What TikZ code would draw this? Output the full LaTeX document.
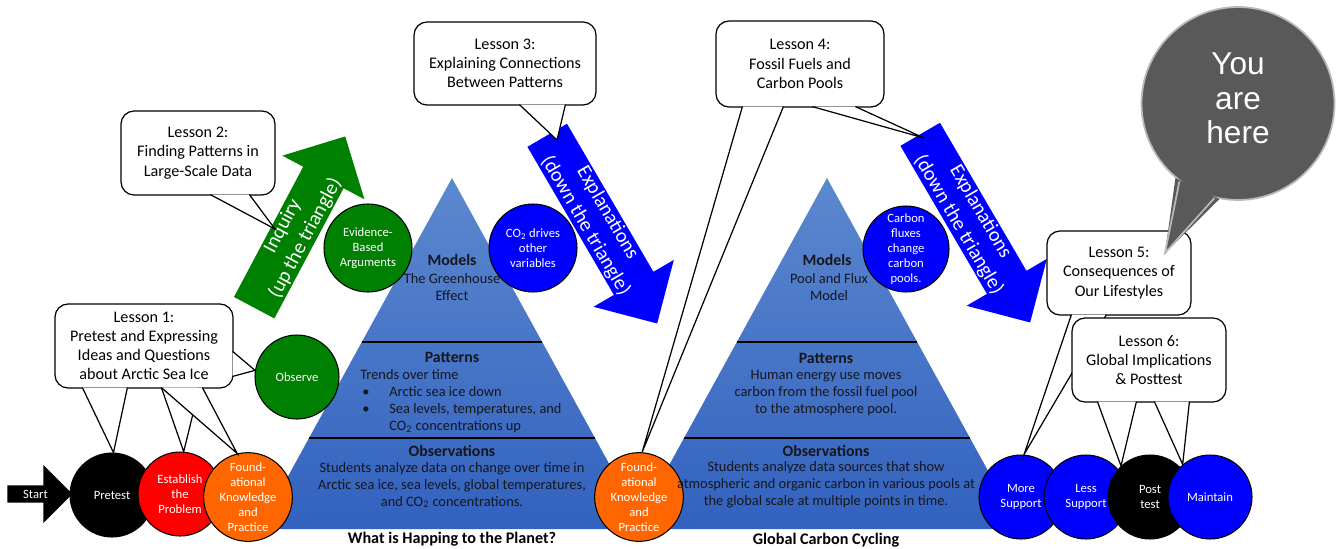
\documentclass[tikz,border=0pt]{standalone}
\usepackage{fontspec}
\setmainfont{Carlito}
\newfontfamily\herefont{Liberation Sans}
\usetikzlibrary{shapes.arrows,calc}

\definecolor{tritop}{RGB}{92,136,206}
\definecolor{tribot}{RGB}{50,98,191}
\definecolor{inqgreen}{RGB}{0,128,0}
\definecolor{expblue}{RGB}{0,0,255}
\definecolor{fndorange}{RGB}{255,102,0}
\definecolor{heregray}{RGB}{89,89,89}
\definecolor{tritext}{RGB}{22,22,30}

\newcommand{\bul}{\makebox[0.58cm][l]{\hspace{0.04cm}\textbullet}}
\newcommand{\calltail}[3]{%
  \fill[white] #1 -- #3 -- #2 -- cycle;
  \draw[tailline] #1 -- #3 -- #2;}

\begin{document}
\begin{tikzpicture}[
    x=0.02cm, y=-0.02cm,
    spot/.style={
        circle, draw=black, line width=0.6pt,
        text=white, align=center, inner sep=0pt,
        minimum size=1.68cm, font=\fontsize{7.2}{8.5}\selectfont,
      },
    lesson/.style={
        rectangle, rounded corners=0.26cm,
        draw=black, line width=0.7pt, fill=white,
        align=center, inner sep=0pt,
        font=\fontsize{9.2}{10.9}\selectfont,
      },
    tailline/.style={draw=black, line width=0.7pt},
    bigarrow/.style={
        single arrow, single arrow head extend=0.45cm,
        minimum width=1.86cm, inner sep=0pt, anchor=tail,
        text=white, align=center, font=\fontsize{11.5}{14.5}\selectfont,
      },
    levelhead/.style={font=\bfseries\fontsize{9}{10}\selectfont, text=tritext, inner sep=0pt},
    leveltext/.style={font=\fontsize{8.2}{9.7}\selectfont, text=tritext, align=center, inner sep=0pt},
    caption/.style={font=\bfseries\fontsize{9.2}{10}\selectfont, inner sep=0pt},
  ]
  \useasboundingbox (0,0) rectangle (1344,548);

  % the two pyramids
  \foreach \ax in {452,827} {
    \shade[top color=tritop, bottom color=tribot]
      (\ax,178) -- (\ax+193,529) -- (\ax-193,529) -- cycle;
    \draw[line width=0.8pt] (\ax-90,342) -- (\ax+90,342);
    \draw[line width=0.8pt] (\ax-143,438) -- (\ax+143,438);
  }

  % big arrows
  \node[bigarrow, fill=inqgreen, rotate=62, minimum height=3.88cm]
    (inquiry) at (254,308) {Inquiry\\(up the triangle)};
  \node[bigarrow, fill=expblue, rotate=-59.7, minimum height=4.36cm]
    (explain1) at (547,135) {Explanations\\(down the triangle)};
  \node[bigarrow, fill=expblue, rotate=-59.7, minimum height=4.36cm]
    (explain2) at (920,134) {Explanations\\(down the triangle)};
  \node[single arrow, fill=black, text=white, inner sep=0pt, anchor=tail,
    minimum height=1.3cm, minimum width=1.16cm, single arrow head extend=0.21cm,
    font=\fontsize{7.2}{8}\selectfont] (start) at (7,494) {Start};

  % circles
  \node[spot, fill=black] (pretest) at (112,495) {Pretest};
  \node[spot, fill=red] (establish) at (180,494) {Establish\\the\\Problem};
  \node[spot, fill=fndorange] (found1) at (248,497) {Found-\\ational\\Knowledge\\and\\Practice};
  \node[spot, fill=inqgreen] (observe) at (297,377) {Observe};
  \node[spot, fill=inqgreen, minimum size=1.76cm] (evidence) at (368,248) {Evidence-\\Based\\Arguments};
  \node[spot, fill=expblue, minimum size=1.76cm] (drives) at (533,248) {CO\textsubscript{2} drives\\other\\variables};
  \node[spot, fill=fndorange] (found2) at (639,497) {Found-\\ational\\Knowledge\\and\\Practice};
  \node[spot, fill=expblue, minimum size=1.72cm] (fluxes) at (906,249) {Carbon\\fluxes\\change\\carbon\\pools.};
  \node[spot, fill=expblue] (more) at (1021,497) {More\\Support};
  \node[spot, fill=expblue] (less) at (1086,497) {Less\\Support};
  \node[spot, fill=black] (post) at (1150,497) {Post\\test};
  \node[spot, fill=expblue] (maintain) at (1210,497) {Maintain};

  % pyramid texts
  \node[levelhead] (models1) at (452,260) {Models};
  \node[leveltext] (greenhouse) at (452,287) {The Greenhouse\\Effect};
  \node[levelhead] (patterns1) at (452,357) {Patterns};
  \node[leveltext, align=left, anchor=west] (trends) at (360,401)
    {Trends over time\\\bul Arctic sea ice down\\\bul Sea levels, temperatures, and\\\hspace*{0.58cm}CO\textsubscript{2} concentrations up};
  \node[levelhead] (obs1) at (452,451) {Observations};
  \node[leveltext] (obstext1) at (452,485)
    {Students analyze data on change over time in\\Arctic sea ice, sea levels, global temperatures,\\and CO\textsubscript{2} concentrations.};
  \node[caption] (planet) at (452,539) {What is Happing to the Planet?};

  \node[levelhead] (models2) at (827,260) {Models};
  \node[leveltext] (poolflux) at (829,287) {Pool and Flux\\Model};
  \node[levelhead] (patterns2) at (826,358) {Patterns};
  \node[leveltext] (energy) at (826,393)
    {Human energy use moves\\carbon from the fossil fuel pool\\to the atmosphere pool.};
  \node[levelhead] (obs2) at (826,451) {Observations};
  \node[leveltext] (obstext2) at (826,485)
    {Students analyze data sources that show\\atmospheric and organic carbon in various pools at\\the global scale at multiple points in time.};
  \node[caption] (cycling) at (826,540) {Global Carbon Cycling};

  % lessons
  \node[lesson, minimum width=3.56cm, minimum height=1.68cm] (l1) at (144,346)
    {Lesson 1:\\Pretest and Expressing\\Ideas and Questions\\about Arctic Sea Ice};
  \calltail{($(l1.south west)+(28,-1)$)}{($(l1.south west)+(73,-1)$)}{(pretest.88)}
  \calltail{($(l1.south west)+(107,-1)$)}{($(l1.south west)+(145,-1)$)}{(establish.85)}
  \calltail{($(l1.south west)+(107,-1)$)}{($(l1.south west)+(148,-1)$)}{(found1.104)}
  \calltail{($(l1.north east)+(-1,48)$)}{($(l1.north east)+(-1,73)$)}{(observe.171)}

  \node[lesson, minimum width=3.08cm, minimum height=1.68cm] (l2) at (198,153)
    {Lesson 2:\\Finding Patterns in\\Large-Scale Data};
  \coordinate (l2tip) at (275,229);
  \calltail{($(l2.south west)+(90,-1)$)}{($(l2.south west)+(129,-1)$)}{(l2tip)}

  \node[lesson, minimum width=3.64cm, minimum height=1.66cm] (l3) at (505,63.5)
    {Lesson 3:\\Explaining Connections\\Between Patterns};
  \coordinate (l3tip) at (557,140);
  \calltail{($(l3.south west)+(106,-1)$)}{($(l3.south west)+(152,-1)$)}{(l3tip)}

  \node[lesson, minimum width=3.36cm, minimum height=1.72cm] (l4) at (800,64)
    {Lesson 4:\\Fossil Fuels and\\Carbon Pools};
  \coordinate (l4tip) at (924,138);
  \calltail{($(l4.south west)+(97,-1)$)}{($(l4.south west)+(140,-1)$)}{(l4tip)}
  \calltail{($(l4.south west)+(27,-1)$)}{($(l4.south west)+(68,-1)$)}{(found2.86)}

  \node[lesson, minimum width=2.88cm, minimum height=1.68cm] (l5) at (1119,273)
    {Lesson 5:\\Consequences of\\Our Lifestyles};
  \calltail{($(l5.south west)+(25,-1)$)}{($(l5.south west)+(60,-1)$)}{(more.86)}

  \node[lesson, minimum width=3.08cm, minimum height=1.68cm] (l6) at (1149,360)
    {Lesson 6:\\Global Implications\\\& Posttest};
  \calltail{($(l6.south west)+(26,-1)$)}{($(l6.south west)+(65,-1)$)}{(post.133)}
  \calltail{($(l6.south west)+(83,-1)$)}{($(l6.south west)+(118,-1)$)}{(maintain.130)}

  % you are here
  \node[circle, fill=heregray, draw=gray!55, line width=1pt, minimum size=3.86cm,
    inner sep=0pt] (here) at (1238,103.5) {};
  \coordinate (heretip) at (1165,253);
  \fill[heregray] (here.230) -- (heretip) -- (here.259) -- cycle;
  \draw[draw=gray!55, line width=1pt] (here.233) -- (heretip) -- (here.256);
  \node[text=white, align=center, inner sep=0pt,
    font=\herefont\fontsize{18}{19.5}\selectfont] (heretext) at (1238,98.5) {You\\are\\here};
\end{tikzpicture}
\end{document}
